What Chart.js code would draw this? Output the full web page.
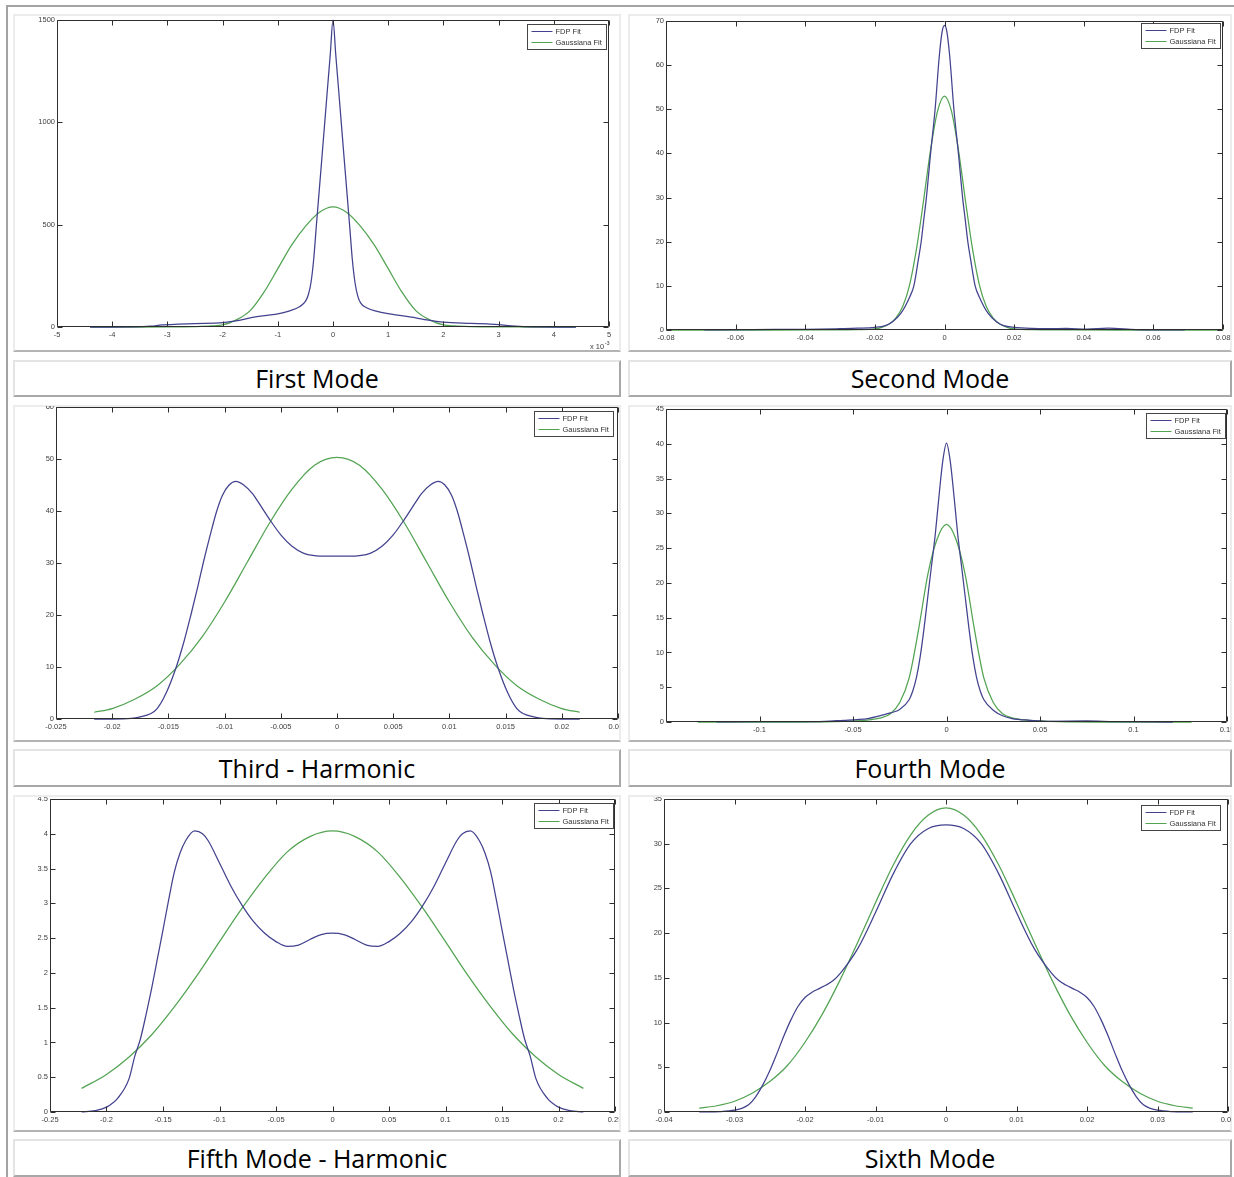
<!DOCTYPE html>
<html>
<head>
<meta charset="utf-8">
<script src="https://cdn.jsdelivr.net/npm/chart.js@4.4.0/dist/chart.umd.min.js"></script>
<style>
html,body{margin:0;padding:0;background:#fff;}
body{width:1234px;height:1177px;position:relative;overflow:hidden;}
#frame{position:absolute;left:6px;top:5px;width:1228px;height:1172px;border-top:2px solid #a3a3a3;border-left:2px solid #a3a3a3;box-sizing:border-box;}
.imgbox{position:absolute;box-sizing:border-box;border:2px solid #ececec;border-bottom:2px solid #b4b4b4;}
.cap{position:absolute;box-sizing:border-box;border:2px solid #e4e4e4;border-right-color:#a8a8a8;border-bottom-color:#a8a8a8;display:flex;align-items:center;justify-content:center;font-family:'Open Sans','Noto Sans',sans-serif;font-size:25px;color:#000;line-height:1;}
canvas{position:absolute;}
</style>
</head>
<body>
<div id="frame"></div>

<div class="imgbox" style="left:13px;top:14px;width:608px;height:338px;"></div>
<div class="imgbox" style="left:628px;top:14px;width:604px;height:338px;"></div>
<div class="imgbox" style="left:13px;top:405px;width:608px;height:337px;"></div>
<div class="imgbox" style="left:628px;top:405px;width:604px;height:337px;"></div>
<div class="imgbox" style="left:13px;top:795px;width:608px;height:337px;"></div>
<div class="imgbox" style="left:628px;top:795px;width:604px;height:337px;"></div>

<div class="cap" id="cap1" style="left:13px;top:360px;width:608px;height:37px;"></div>
<div class="cap" id="cap2" style="left:628px;top:360px;width:604px;height:37px;"></div>
<div class="cap" id="cap3" style="left:13px;top:749px;width:608px;height:38px;"></div>
<div class="cap" id="cap4" style="left:628px;top:749px;width:604px;height:38px;"></div>
<div class="cap" id="cap5" style="left:13px;top:1139px;width:608px;height:38px;"></div>
<div class="cap" id="cap6" style="left:628px;top:1139px;width:604px;height:38px;"></div>

<canvas id="c1" width="604" height="334" style="left:15px;top:16px;width:604px;height:334px;"></canvas>
<canvas id="c2" width="601" height="334" style="left:630px;top:16px;width:601px;height:334px;"></canvas>
<canvas id="c3" width="604" height="334" style="left:15px;top:406px;width:604px;height:334px;"></canvas>
<canvas id="c4" width="601" height="334" style="left:630px;top:406px;width:601px;height:334px;"></canvas>
<canvas id="c5" width="604" height="333" style="left:15px;top:797px;width:604px;height:333px;"></canvas>
<canvas id="c6" width="601" height="333" style="left:630px;top:797px;width:601px;height:333px;"></canvas>

<script>
// ---------------- DATA ----------------
const captions = ['First Mode', 'Second Mode', 'Third - Harmonic', 'Fourth Mode', 'Fifth Mode - Harmonic', 'Sixth Mode'];
const seriesLabels = ['FDP Fit', 'Gaussiana Fit'];

// Panel 1 (x in units of 1e-3)
const p1XTicks = [-5,-4,-3,-2,-1,0,1,2,3,4,5];
const p1XLabels = ['-5','-4','-3','-2','-1','0','1','2','3','4','5'];
const p1YTicks = [0,500,1000,1500];
const p1YLabels = ['0','500','1000','1500'];
const p1FdpX = [-4.4,-4.0,-3.6,-3.3,-3.1,-2.8,-2.5,-2.0,-1.7,-1.5,-1.2,-1.0,-0.8,-0.6,-0.5,-0.45,-0.4,-0.35,-0.3,-0.2,-0.1,-0.05,0,0.05,0.1,0.2,0.3,0.35,0.4,0.45,0.5,0.6,0.8,1.0,1.2,1.5,1.7,2.0,2.5,2.8,3.0,3.1,3.3,3.6,4.0,4.4];
const p1FdpY = [0,0,0.5,4,10,14,17,21,32,45,57,64,78,100,125,155,215,330,500,830,1165,1330,1500,1330,1165,830,500,330,215,150,118,95,76,65,57,45,35,24,18,15,12,9,4,0.5,0,0];
const p1GaussX = [-4.4,-3.5,-3.0,-2.5,-2.2,-2.0,-1.75,-1.5,-1.25,-1.0,-0.75,-0.5,-0.25,0,0.25,0.5,0.75,1.0,1.25,1.5,1.75,2.0,2.2,2.5,3.0,3.5,4.4];
const p1GaussY = [0,0,0.3,2,5,10,35,80,170,285,400,492,560,587,560,492,400,285,170,80,35,10,5,2,0.3,0,0];

// Panel 2
const p2XTicks = [-0.08,-0.06,-0.04,-0.02,0,0.02,0.04,0.06,0.08];
const p2XLabels = ['-0.08','-0.06','-0.04','-0.02','0','0.02','0.04','0.06','0.08'];
const p2YTicks = [0,10,20,30,40,50,60,70];
const p2YLabels = ['0','10','20','30','40','50','60','70'];
const p2FdpX = [-0.069,-0.055,-0.04,-0.03,-0.025,-0.02,-0.017,-0.015,-0.0125,-0.01,-0.0088,-0.0075,-0.0067,-0.006,-0.0052,-0.004,-0.0027,-0.0015,-0.0007,0,0.0007,0.0015,0.0027,0.004,0.0052,0.006,0.0067,0.0075,0.0088,0.01,0.0125,0.015,0.017,0.02,0.025,0.03,0.035,0.041,0.047,0.055,0.069];
const p2FdpY = [0,0.1,0.15,0.3,0.4,0.6,1.0,1.8,3.8,7.5,10,16,20,24.7,30,40,50,62,67.5,69,67.5,62,50,40,30,24.7,20,16,10,7.5,3.8,1.8,1.0,0.6,0.35,0.3,0.35,0.2,0.4,0.1,0];
const p2GaussX = [-0.08,-0.05,-0.035,-0.025,-0.02,-0.018,-0.016,-0.014,-0.012,-0.01,-0.008,-0.006,-0.004,-0.002,0,0.002,0.004,0.006,0.008,0.01,0.012,0.014,0.016,0.018,0.02,0.025,0.035,0.05,0.08];
const p2GaussY = [0,0,0.02,0.08,0.25,0.6,1.3,2.7,5.3,10.3,18.6,29.4,40.8,49.6,53,49.6,40.8,29.4,18.6,10.3,5.3,2.7,1.3,0.6,0.25,0.08,0.02,0,0];

// Panel 3
const p3XTicks = [-0.025,-0.02,-0.015,-0.01,-0.005,0,0.005,0.01,0.015,0.02,0.025];
const p3XLabels = ['-0.025','-0.02','-0.015','-0.01','-0.005','0','0.005','0.01','0.015','0.02','0.025'];
const p3YTicks = [0,10,20,30,40,50,60];
const p3YLabels = ['0','10','20','30','40','50','60'];
const p3FdpX = [-0.0216,-0.02,-0.0183,-0.0175,-0.0166,-0.016,-0.0152,-0.0143,-0.0136,-0.013,-0.0124,-0.0119,-0.0113,-0.0107,-0.0102,-0.0096,-0.009,-0.0083,-0.0075,-0.007,-0.006,-0.005,-0.004,-0.003,-0.002,-0.001,0,0.001,0.002,0.003,0.004,0.005,0.006,0.007,0.0075,0.0083,0.009,0.0096,0.0102,0.0107,0.0113,0.0119,0.0124,0.013,0.0136,0.0143,0.0152,0.016,0.0166,0.0175,0.0183,0.02,0.0216];
const p3FdpY = [0,0,0.1,0.4,1,2,5,10,15,20,25.3,30,35.2,40,43,45,45.7,45,43.3,41.7,38.4,35.4,33.2,31.9,31.4,31.3,31.3,31.3,31.4,31.9,33.2,35.4,38.4,41.7,43.3,45,45.7,45,43,40,35.2,30,25.3,20,15,10,5,2,1,0.4,0.1,0,0];
const p3GaussX = [-0.0216,-0.02,-0.018,-0.016,-0.014,-0.012,-0.01,-0.008,-0.006,-0.004,-0.002,0,0.002,0.004,0.006,0.008,0.01,0.012,0.014,0.016,0.018,0.02,0.0216];
const p3GaussY = [1.3,2.0,3.8,6.4,10.5,15.8,22.5,30.1,37.7,44.2,48.8,50.3,48.8,44.2,37.7,30.1,22.5,15.8,10.5,6.4,3.8,2.0,1.3];

// Panel 4
const p4XTicks = [-0.15,-0.1,-0.05,0,0.05,0.1,0.15];
const p4XLabels = ['','-0.1','-0.05','0','0.05','0.1','0.15'];
const p4YTicks = [0,5,10,15,20,25,30,35,40,45];
const p4YLabels = ['0','5','10','15','20','25','30','35','40','45'];
const p4FdpX = [-0.123,-0.1,-0.08,-0.065,-0.055,-0.048,-0.042,-0.035,-0.03,-0.025,-0.02,-0.018,-0.016,-0.014,-0.012,-0.01,-0.008,-0.006,-0.004,-0.002,0,0.002,0.004,0.006,0.008,0.01,0.012,0.014,0.016,0.018,0.02,0.025,0.03,0.035,0.045,0.055,0.075,0.09,0.121];
const p4FdpY = [0,0.05,0.05,0.1,0.25,0.35,0.5,0.95,1.3,1.8,3.2,4.5,6.5,9.5,13.5,18,22.5,27,32.5,37.5,40.1,37.5,32.5,27,22.5,18,13.5,9.5,6.5,4.5,3.2,1.7,0.9,0.5,0.25,0.1,0.15,0.05,0];
const p4GaussX = [-0.133,-0.08,-0.06,-0.05,-0.04,-0.035,-0.03,-0.025,-0.02,-0.015,-0.01,-0.005,0,0.005,0.01,0.015,0.02,0.025,0.03,0.035,0.04,0.05,0.06,0.08,0.131];
const p4GaussY = [0,0,0.05,0.15,0.35,0.6,1.2,2.8,6.3,13.2,21.2,26.3,28.4,26.3,21.2,13.2,6.3,2.8,1.2,0.6,0.35,0.15,0.05,0,0];

// Panel 5
const p5XTicks = [-0.25,-0.2,-0.15,-0.1,-0.05,0,0.05,0.1,0.15,0.2,0.25];
const p5XLabels = ['-0.25','-0.2','-0.15','-0.1','-0.05','0','0.05','0.1','0.15','0.2','0.25'];
const p5YTicks = [0,0.5,1,1.5,2,2.5,3,3.5,4,4.5];
const p5YLabels = ['0','0.5','1','1.5','2','2.5','3','3.5','4','4.5'];
const p5FdpX = [-0.222,-0.21,-0.2,-0.19,-0.18,-0.175,-0.17,-0.165,-0.16,-0.155,-0.15,-0.145,-0.14,-0.135,-0.13,-0.122,-0.115,-0.11,-0.1,-0.09,-0.08,-0.07,-0.06,-0.05,-0.04,-0.03,-0.02,-0.01,0,0.01,0.02,0.03,0.04,0.05,0.06,0.07,0.08,0.09,0.1,0.11,0.115,0.122,0.13,0.135,0.14,0.145,0.15,0.155,0.16,0.165,0.17,0.175,0.18,0.19,0.2,0.21,0.222];
const p5FdpY = [0,0.02,0.07,0.2,0.48,0.8,1.05,1.4,1.78,2.2,2.62,3.05,3.45,3.72,3.9,4.04,4.0,3.9,3.58,3.25,2.97,2.74,2.57,2.45,2.38,2.4,2.48,2.55,2.57,2.55,2.48,2.4,2.38,2.45,2.57,2.74,2.97,3.25,3.58,3.9,4.0,4.04,3.9,3.72,3.45,3.05,2.62,2.2,1.78,1.4,1.05,0.8,0.48,0.2,0.07,0.02,0];
const p5GaussX = [-0.222,-0.2,-0.18,-0.16,-0.14,-0.12,-0.1,-0.08,-0.06,-0.04,-0.02,0,0.02,0.04,0.06,0.08,0.1,0.12,0.14,0.16,0.18,0.2,0.222];
const p5GaussY = [0.34,0.54,0.79,1.11,1.51,1.96,2.45,2.93,3.37,3.74,3.96,4.04,3.96,3.74,3.37,2.93,2.45,1.96,1.51,1.11,0.79,0.54,0.34];

// Panel 6
const p6XTicks = [-0.04,-0.03,-0.02,-0.01,0,0.01,0.02,0.03,0.04];
const p6XLabels = ['-0.04','-0.03','-0.02','-0.01','0','0.01','0.02','0.03','0.04'];
const p6YTicks = [0,5,10,15,20,25,30,35];
const p6YLabels = ['0','5','10','15','20','25','30','35'];
const p6FdpX = [-0.035,-0.032,-0.03,-0.029,-0.028,-0.027,-0.026,-0.025,-0.024,-0.023,-0.022,-0.021,-0.02,-0.019,-0.018,-0.017,-0.016,-0.015,-0.0125,-0.01,-0.0075,-0.005,-0.0025,0,0.0025,0.005,0.0075,0.01,0.0125,0.015,0.016,0.017,0.018,0.019,0.02,0.021,0.022,0.023,0.024,0.025,0.026,0.027,0.028,0.029,0.03,0.032,0.035];
const p6FdpY = [0,0.05,0.2,0.4,0.8,1.7,3.0,4.6,6.5,8.5,10.3,11.8,12.8,13.4,13.8,14.2,14.7,15.5,18.3,22.3,26.6,30.0,31.7,32.1,31.7,30.0,26.6,22.3,18.3,15.5,14.7,14.2,13.8,13.4,12.8,11.8,10.3,8.5,6.5,4.6,3.0,1.7,0.8,0.4,0.2,0.05,0];
const p6GaussX = [-0.035,-0.0325,-0.03,-0.0275,-0.025,-0.0225,-0.02,-0.0175,-0.015,-0.0125,-0.01,-0.0075,-0.005,-0.0025,0,0.0025,0.005,0.0075,0.01,0.0125,0.015,0.0175,0.02,0.0225,0.025,0.0275,0.03,0.0325,0.035];
const p6GaussY = [0.43,0.7,1.2,2.1,3.4,5.2,7.8,11.0,14.8,19.0,23.4,27.6,31.0,33.2,34,33.2,31.0,27.6,23.4,19.0,14.8,11.0,7.8,5.2,3.4,2.1,1.2,0.7,0.43];

// ---------------- LAYOUT / STYLE ----------------
const FDP_COLOR = '#42428e';
const GAUSS_COLOR = '#52a352';
const FONT = '"Liberation Sans", Arial, Helvetica, sans-serif';
Chart.defaults.font.family = FONT;
Chart.defaults.font.size = 7.5;
Chart.defaults.color = '#404040';

// canvas page offsets and desired plot-area edges in page coords [L, R, T, B]
const panels = [
  {id:'c1', left:15,  top:16,  area:[57,609,20,327],     legend:[3,4], exponent:'-3',
   xT:p1XTicks, xL:p1XLabels, yT:p1YTicks, yL:p1YLabels, fx:p1FdpX, fy:p1FdpY, gx:p1GaussX, gy:p1GaussY},
  {id:'c2', left:630, top:16,  area:[666,1223,21,330],   legend:[3,2],
   xT:p2XTicks, xL:p2XLabels, yT:p2YTicks, yL:p2YLabels, fx:p2FdpX, fy:p2FdpY, gx:p2GaussX, gy:p2GaussY},
  {id:'c3', left:15,  top:406, area:[56,618,407,719],    legend:[5,4],
   xT:p3XTicks, xL:p3XLabels, yT:p3YTicks, yL:p3YLabels, fx:p3FdpX, fy:p3FdpY, gx:p3GaussX, gy:p3GaussY},
  {id:'c4', left:630, top:406, area:[666,1227,409,722],  legend:[2,4],
   xT:p4XTicks, xL:p4XLabels, yT:p4YTicks, yL:p4YLabels, fx:p4FdpX, fy:p4FdpY, gx:p4GaussX, gy:p4GaussY},
  {id:'c5', left:15,  top:797, area:[50,615,799,1112],   legend:[2,4],
   xT:p5XTicks, xL:p5XLabels, yT:p5YTicks, yL:p5YLabels, fx:p5FdpX, fy:p5FdpY, gx:p5GaussX, gy:p5GaussY},
  {id:'c6', left:630, top:797, area:[664,1228,799,1112], legend:[8,6],
   xT:p6XTicks, xL:p6XLabels, yT:p6YTicks, yL:p6YLabels, fx:p6FdpX, fy:p6FdpY, gx:p6GaussX, gy:p6GaussY}
];

captions.forEach((c,i)=>{ document.getElementById('cap'+(i+1)).textContent = c; });

function pts(xs, ys){ return xs.map((x,i)=>({x:x, y:ys[i]})); }

const matlabPlugin = {
  id: 'matlabBox',
  afterDatasetsDraw(chart, args, o) {
    const ctx = chart.ctx, a = chart.chartArea, xs = chart.scales.x, ys = chart.scales.y;
    const L = Math.round(a.left) + 0.5, R = Math.round(a.right) - 0.5;
    const T = Math.round(a.top) + 0.5, B = Math.round(a.bottom) - 0.5;
    ctx.save();
    ctx.strokeStyle = '#2e2e2e';
    ctx.lineWidth = 1;
    ctx.beginPath();
    ctx.rect(L, T, R - L, B - T);
    xs.ticks.forEach(t => {
      const px = Math.round(xs.getPixelForValue(t.value)) + 0.5;
      ctx.moveTo(px, B); ctx.lineTo(px, B - 5);
      ctx.moveTo(px, T); ctx.lineTo(px, T + 5);
    });
    ys.ticks.forEach(t => {
      const py = Math.round(ys.getPixelForValue(t.value)) + 0.5;
      ctx.moveTo(L, py); ctx.lineTo(L + 5, py);
      ctx.moveTo(R, py); ctx.lineTo(R - 5, py);
    });
    ctx.stroke();

    // legend box
    const lw = 79, lh = 25;
    const lx = Math.round(a.right) - o.gap[0] - lw + 0.5;
    const ly = Math.round(a.top) + o.gap[1] + 0.5;
    ctx.fillStyle = '#ffffff';
    ctx.fillRect(lx, ly, lw, lh);
    ctx.strokeStyle = '#454545';
    ctx.strokeRect(lx, ly, lw, lh);
    ctx.font = '7.5px ' + FONT;
    ctx.textBaseline = 'middle';
    ctx.textAlign = 'left';
    chart.data.datasets.forEach((ds, i) => {
      const yy = Math.round(ly + 6 + i * 11.5) + 0.5;
      ctx.strokeStyle = ds.borderColor;
      ctx.beginPath();
      ctx.moveTo(lx + 4, yy); ctx.lineTo(lx + 25, yy);
      ctx.stroke();
      ctx.fillStyle = '#333';
      ctx.fillText(ds.label, lx + 28, yy);
    });

    if (o.exponent) {
      ctx.fillStyle = '#404040';
      ctx.font = '7.5px ' + FONT;
      const base = 'x 10';
      const bx = R - 18.5;
      ctx.fillText(base, bx, B + 20);
      const w = ctx.measureText(base).width;
      ctx.font = '5.5px ' + FONT;
      ctx.fillText(o.exponent, bx + w + 0.5, B + 16.5);
    }
    ctx.restore();
  }
};

panels.forEach(p => {
  const cv = document.getElementById(p.id);
  const W = cv.width, H = cv.height;
  const [L, R, T, B] = p.area;
  const yW = L - p.left;
  const padR = (p.left + W) - R;
  const padT = T - p.top;
  const xH = (p.top + H) - B;

  new Chart(cv, {
    type: 'scatter',
    data: {
      datasets: [
        { label: seriesLabels[0], data: pts(p.fx, p.fy), showLine: true, borderColor: FDP_COLOR,
          borderWidth: 1.25, pointRadius: 0, cubicInterpolationMode: 'monotone', clip: false },
        { label: seriesLabels[1], data: pts(p.gx, p.gy), showLine: true, borderColor: GAUSS_COLOR,
          borderWidth: 1.25, pointRadius: 0, cubicInterpolationMode: 'monotone', clip: false }
      ]
    },
    options: {
      responsive: false,
      animation: false,
      devicePixelRatio: 1,
      layout: { autoPadding: false, padding: { left: 0, right: padR, top: padT, bottom: 0 } },
      plugins: { legend: { display: false }, tooltip: { enabled: false },
                 matlabBox: { gap: p.legend, exponent: p.exponent } },
      scales: {
        x: {
          type: 'linear', position: 'bottom',
          min: p.xT[0], max: p.xT[p.xT.length - 1],
          afterBuildTicks: s => { s.ticks = p.xT.map(v => ({ value: v })); },
          ticks: { autoSkip: false, maxRotation: 0, minRotation: 0, padding: 3,
                   callback: (v, i) => p.xL[i] },
          grid: { display: false, drawTicks: false }, border: { display: false },
          afterFit: s => { s.height = xH; s.paddingLeft = 0; s.paddingRight = 0; }
        },
        y: {
          type: 'linear', position: 'left',
          min: p.yT[0], max: p.yT[p.yT.length - 1],
          afterBuildTicks: s => { s.ticks = p.yT.map(v => ({ value: v })); },
          ticks: { autoSkip: false, padding: 2, callback: (v, i) => p.yL[i] },
          grid: { display: false, drawTicks: false }, border: { display: false },
          afterFit: s => { s.width = yW; s.paddingTop = 0; s.paddingBottom = 0; }
        }
      }
    },
    plugins: [matlabPlugin]
  });
});
</script>
</body>
</html>
